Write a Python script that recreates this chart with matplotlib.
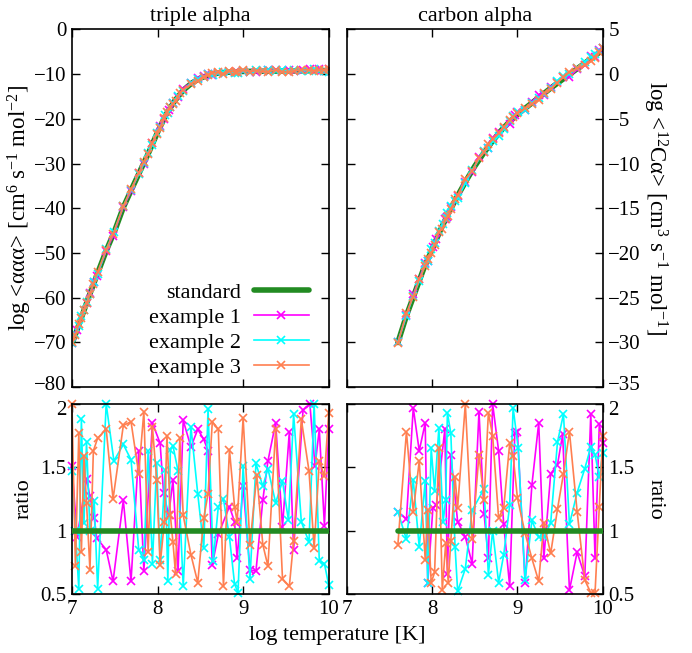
import numpy as np
import matplotlib
matplotlib.use('Agg')
import matplotlib.pyplot as plt
from matplotlib.transforms import ScaledTranslation

plt.rcParams['font.family'] = ['Liberation Serif', 'DejaVu Serif']
plt.rcParams['mathtext.fontset'] = 'custom'
plt.rcParams['mathtext.rm'] = 'Liberation Serif'
plt.rcParams['mathtext.it'] = 'Liberation Serif'
plt.rcParams['font.size'] = 16

# standard rates (log10)
ta_x = [7.0, 7.1, 7.2, 7.3, 7.4, 7.5, 7.6, 7.7, 7.8, 7.9, 8.0, 8.1, 8.2, 8.3,
        8.4, 8.5, 8.6, 8.7, 8.8, 9.0, 9.5, 10.0]
ta_y = [-70.3, -65.0, -59.6, -54.5, -49.5, -45.0, -39.8, -35.6, -31.5, -27.4,
        -23.0, -19.0, -16.0, -13.6, -12.0, -10.9, -10.2, -9.8, -9.6, -9.4, -9.3, -9.2]

ca_x = [7.6, 7.7, 7.8, 7.9, 8.0, 8.1, 8.2, 8.3, 8.4, 8.5, 8.6, 8.7, 8.8, 8.9,
        9.0, 9.2, 9.4, 9.6, 9.8, 10.0]
ca_y = [-30.0, -27.0, -24.4, -21.8, -19.6, -17.4, -15.4, -13.6, -11.9, -10.3,
        -8.9, -7.6, -6.4, -5.4, -4.5, -3.0, -1.5, -0.1, 1.3, 2.7]

# ratio to standard, triple alpha
ta1_x = [7.00, 7.06, 7.17, 7.21, 7.26, 7.29, 7.40, 7.48, 7.60, 7.69,
         7.78, 7.84, 7.94, 8.03, 8.07, 8.13, 8.18, 8.24, 8.30, 8.39,
         8.47, 8.54, 8.59, 8.64, 8.71, 8.84, 8.90, 8.93, 9.00, 9.08,
         9.15, 9.23, 9.29, 9.38, 9.46, 9.54, 9.59, 9.70, 9.78, 9.84,
         9.89, 9.95, 10.0]
ta1_r = [1.51, 0.95, 1.41, 1.27, 1.10, 0.94, 0.85, 0.60, 1.24, 0.60,
         1.63, 0.68, 1.85, 1.69, 1.30, 1.12, 1.40, 0.68, 1.87, 1.66,
         1.80, 1.72, 1.63, 0.73, 0.97, 1.19, 1.07, 0.78, 1.35, 0.69,
         0.68, 1.24, 1.55, 1.85, 1.03, 1.78, 0.85, 1.95, 2.0, 1.51,
         1.80, 1.04, 1.80]

ta2_x = [7.00, 7.04, 7.08, 7.11, 7.14, 7.17, 7.21, 7.26, 7.30, 7.40,
         7.49, 7.60, 7.69, 7.78, 7.84, 7.89, 7.94, 7.99, 8.03, 8.09,
         8.12, 8.15, 8.18, 8.24, 8.30, 8.39, 8.47, 8.54, 8.59, 8.65,
         8.71, 8.77, 8.84, 8.90, 8.94, 9.00, 9.08, 9.15, 9.23, 9.29,
         9.38, 9.46, 9.53, 9.59, 9.68, 9.77, 9.83, 9.89, 9.95, 10.0]
ta2_r = [1.47, 1.00, 0.54, 1.88, 1.06, 1.70, 1.00, 1.23, 0.54, 2.0,
         1.55, 1.68, 1.56, 0.85, 0.77, 1.63, 0.74, 1.53, 0.77, 1.48,
         0.60, 1.64, 1.67, 1.47, 0.56, 1.82, 1.29, 0.86, 1.96, 0.76,
         1.19, 1.25, 0.95, 0.58, 0.51, 1.51, 0.62, 1.53, 1.35, 1.49,
         1.22, 1.39, 1.08, 1.92, 1.07, 0.91, 2.0, 0.76, 0.74, 0.57]

ta3_x = [7.00, 7.04, 7.08, 7.11, 7.14, 7.17, 7.21, 7.25, 7.30, 7.40,
         7.48, 7.60, 7.69, 7.78, 7.84, 7.89, 7.94, 7.99, 8.03, 8.08,
         8.11, 8.15, 8.18, 8.21, 8.26, 8.30, 8.39, 8.47, 8.54, 8.59,
         8.64, 8.71, 8.77, 8.84, 8.90, 8.93, 9.00, 9.08, 9.16, 9.23,
         9.29, 9.38, 9.46, 9.54, 9.59, 9.68, 9.77, 9.83, 9.89, 9.95, 10.0]
ta3_r = [2.0, 0.72, 1.77, 0.83, 1.59, 1.22, 0.69, 1.63, 1.73, 1.80,
         1.25, 1.83, 1.86, 1.45, 1.94, 0.83, 1.82, 1.40, 0.73, 1.07,
         1.75, 1.12, 0.91, 0.66, 1.73, 1.12, 0.81, 0.59, 1.10, 1.29,
         1.86, 1.80, 0.56, 1.64, 1.19, 1.07, 1.89, 0.89, 1.44, 0.89,
         0.72, 1.80, 0.62, 0.56, 0.92, 1.88, 1.47, 0.86, 1.55, 1.43, 1.93]

# ratio to standard, carbon alpha
ca1_x = [7.60, 7.70, 7.78, 7.85, 7.92, 7.95, 8.01, 8.05, 8.15, 8.18, 8.22,
         8.30, 8.39, 8.47, 8.55, 8.61, 8.66, 8.71, 8.78, 8.84, 8.91,
         8.97, 9.00, 9.09, 9.17, 9.25, 9.31, 9.39, 9.47, 9.53, 9.61,
         9.70, 9.79, 9.86, 9.91, 9.96, 10.0]
ca1_r = [1.15, 1.09, 1.97, 1.63, 1.85, 0.59, 1.18, 1.20, 1.80, 0.66, 1.60,
         1.07, 0.95, 0.74, 1.94, 1.13, 0.78, 2.0, 1.63, 1.05, 0.56,
         1.77, 1.78, 0.59, 1.36, 1.85, 0.78, 1.45, 1.52, 1.76, 0.53,
         0.83, 0.64, 1.92, 0.78, 1.84, 1.69]

ca2_x = [7.60, 7.70, 7.78, 7.85, 7.92, 7.95, 7.99, 8.03, 8.08, 8.13,
         8.16, 8.18, 8.22, 8.27, 8.30, 8.39, 8.47, 8.61, 8.66, 8.71,
         8.78, 8.84, 8.91, 8.95, 9.01, 9.09, 9.17, 9.25, 9.31, 9.39,
         9.47, 9.54, 9.61, 9.70, 9.79, 9.86, 9.91, 9.96, 10.0]
ca2_r = [1.15, 0.93, 1.40, 0.87, 1.39, 0.59, 1.65, 1.31, 1.81, 1.07,
         1.24, 1.93, 1.77, 0.87, 0.52, 0.70, 1.16, 1.33, 0.65, 1.00,
         0.59, 0.81, 1.20, 1.97, 1.65, 0.61, 1.08, 0.95, 0.95, 1.06,
         1.70, 1.92, 1.05, 1.30, 1.49, 1.66, 1.60, 1.42, 1.61]

ca3_x = [7.60, 7.70, 7.78, 7.85, 7.92, 7.95, 7.99, 8.03, 8.08, 8.12,
         8.16, 8.19, 8.22, 8.27, 8.30, 8.39, 8.47, 8.55, 8.61, 8.66,
         8.71, 8.78, 8.84, 8.91, 8.95, 9.00, 9.09, 9.17, 9.25, 9.31,
         9.39, 9.47, 9.54, 9.61, 9.70, 9.79, 9.86, 9.91, 9.96, 10.0]
ca3_r = [0.89, 1.78, 1.15, 1.55, 0.77, 1.16, 0.59, 0.67, 1.65, 0.53,
         0.90, 0.59, 0.92, 1.42, 1.18, 2.0, 0.93, 1.60, 1.24, 1.93,
         1.75, 1.10, 1.18, 1.69, 1.59, 1.26, 0.98, 0.78, 0.60, 1.06,
         0.82, 1.17, 1.45, 1.78, 1.15, 0.61, 0.51, 0.51, 1.19, 1.75]

labels = ['example 1', 'example 2', 'example 3']
colors = ['#ff00ff', '#00ffff', '#ff7f50']
green = '#228b22'


def style(ax, right=False):
	ax.tick_params(direction='in', length=6, width=1, top=True, right=True, left=True,
	               labelsize=15, pad=4)
	if right:
		ax.yaxis.tick_right()
		ax.yaxis.set_label_position('right')
		ax.tick_params(left=True)
	for s in ax.spines.values():
		s.set_linewidth(1.2)


fig = plt.figure(figsize=(6.92, 6.53), dpi=100)
ax1 = fig.add_axes([0.104, 0.407, 0.371, 0.548])
ax2 = fig.add_axes([0.501, 0.407, 0.370, 0.548])
ax3 = fig.add_axes([0.104, 0.0904, 0.371, 0.291])
ax4 = fig.add_axes([0.501, 0.0904, 0.370, 0.291])

panels = [(ax1, ax3, ta_x, ta_y, [(ta1_x, ta1_r), (ta2_x, ta2_r), (ta3_x, ta3_r)]),
          (ax2, ax4, ca_x, ca_y, [(ca1_x, ca1_r), (ca2_x, ca2_r), (ca3_x, ca3_r)])]

for top, bot, sx, sy, exs in panels:
	top.plot(sx, sy, color=green, lw=4, label='standard', solid_capstyle='round')
	for (ex, er), c, lab in zip(exs, colors, labels):
		# example rate = standard rate * ratio
		ey = np.interp(ex, sx, sy) + np.log10(er)
		top.plot(ex, ey, color=c, lw=1.2, marker='x', ms=6, mew=1.2, label=lab)
		bot.plot(ex, er, color=c, lw=1.2, marker='x', ms=6, mew=1.2, clip_on=False)
	bot.plot(sx, np.ones(len(sx)), color=green, lw=4, solid_capstyle='round', zorder=5)

for ax in (ax1, ax2, ax3, ax4):
	ax.set_xlim(7, 10)
	ax.set_xticks([7, 8, 9, 10])

ax1.set_ylim(-80, 0)
ax1.set_yticks(range(-80, 1, 10))
ax2.set_ylim(-35, 5)
ax2.set_yticks(range(-35, 6, 5))
for ax in (ax3, ax4):
	ax.set_ylim(0.5, 2)
	ax.set_yticks([0.5, 1, 1.5, 2])
	ax.set_yticklabels(['0.5', '1', '1.5', '2'])

for ax in (ax1, ax2):
	ax.tick_params(labelbottom=False)

style(ax1)
style(ax3)
style(ax2, right=True)
style(ax4, right=True)

ax1.set_title('triple alpha', fontsize=16, pad=6)
ax2.set_title('carbon alpha', fontsize=16, pad=6)
ax1.set_ylabel(r'log <ααα> [cm$^{6}$ s$^{-1}$ mol$^{-2}$]', fontsize=16.5, labelpad=0)
ax2.set_ylabel(r'log <$^{12}$Cα> [cm$^{3}$ s$^{-1}$ mol$^{-1}$]', fontsize=16.5,
               rotation=270, labelpad=20)
ax3.set_ylabel('ratio', fontsize=16, labelpad=5)
ax4.set_ylabel('ratio', fontsize=16, rotation=270, labelpad=22)
fig.text(0.488, 0.027, 'log temperature [K]', ha='center', va='center', fontsize=16)

ax1.legend(loc='lower right', bbox_to_anchor=(1.0, -0.03), frameon=False,
           markerfirst=False, handlelength=2.45, fontsize=16, labelspacing=0.2,
           handletextpad=0.6)

# nudge the touching labels at the panel seam apart a little
fig.canvas.draw()
for ax, idx, dy in ((ax1, 0, 3), (ax2, 0, 3), (ax3, -1, -3), (ax4, -1, -3)):
	lbl = ax.yaxis.get_majorticklabels()[idx]
	lbl.set_transform(lbl.get_transform() + ScaledTranslation(0, dy / 72, fig.dpi_scale_trans))

plt.savefig('out.png', dpi=100)
